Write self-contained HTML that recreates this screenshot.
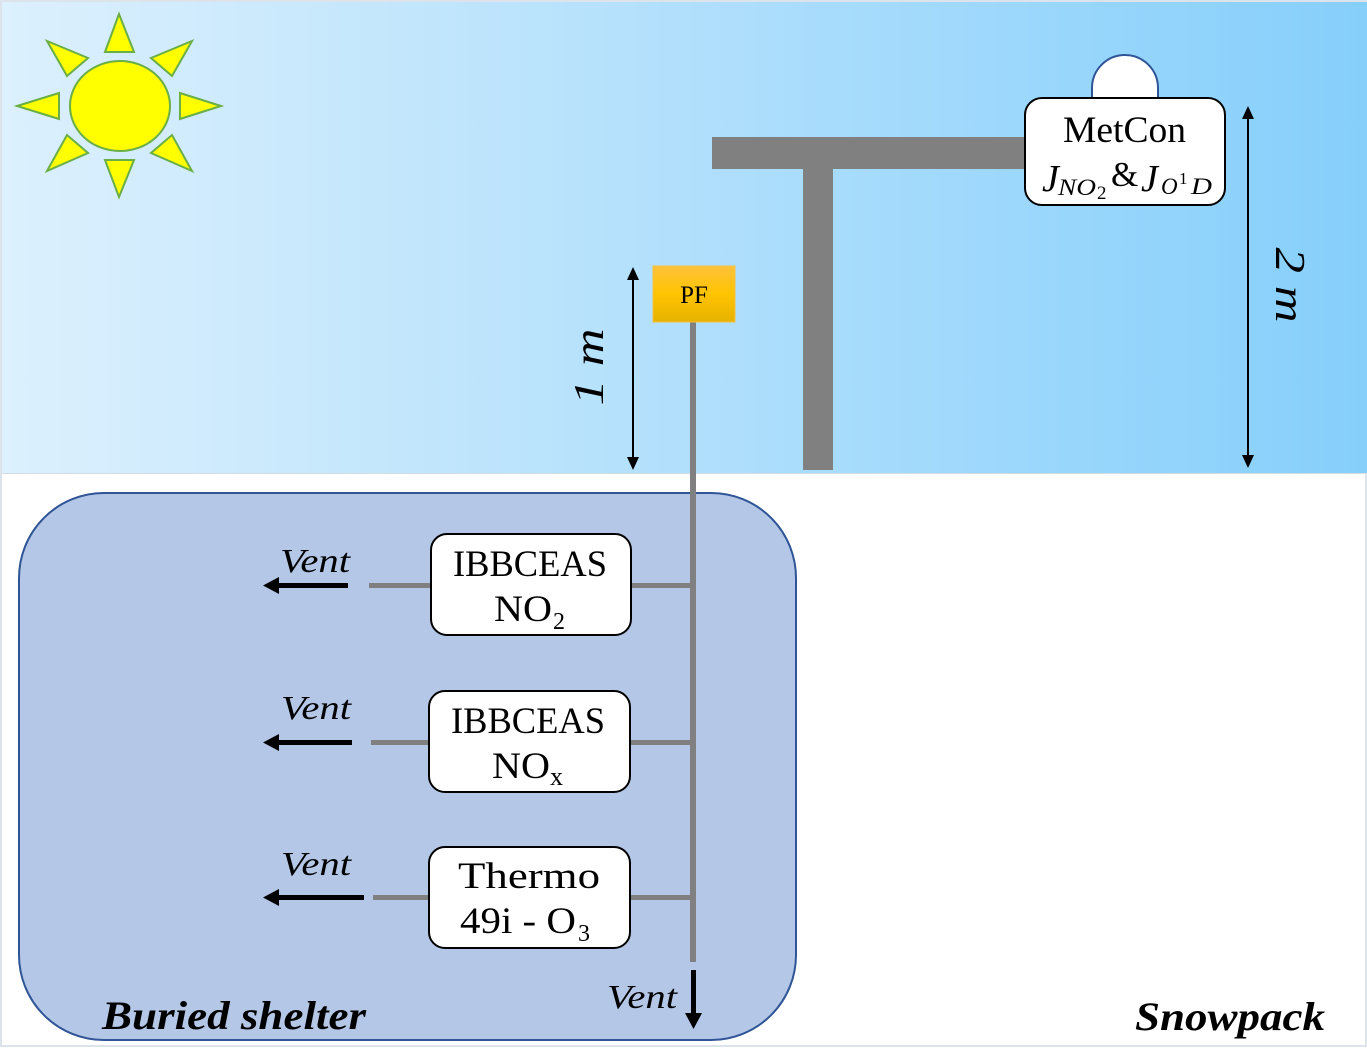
<!DOCTYPE html>
<html><head><meta charset="utf-8"><style>
html,body{margin:0;padding:0;background:#fff;}
svg{display:block;}
text{font-family:"Liberation Serif",serif;}
</style></head><body>
<svg width="1367" height="1048" viewBox="0 0 1367 1048" xmlns="http://www.w3.org/2000/svg">
<defs>
<linearGradient id="sky" x1="0" y1="0" x2="1" y2="0">
<stop offset="0" stop-color="#dcf0fd"/><stop offset="1" stop-color="#86cffb"/>
</linearGradient>
<linearGradient id="pf" x1="0" y1="0" x2="0" y2="1">
<stop offset="0" stop-color="#fdc23a"/><stop offset="0.5" stop-color="#ffc400"/><stop offset="1" stop-color="#e6b200"/>
</linearGradient>
</defs>
<rect x="0" y="0" width="1367" height="1048" fill="#fff"/>
<rect x="1" y="1" width="1365" height="1045" fill="none" stroke="#dde3ea" stroke-width="2"/>
<rect x="2" y="2" width="1365" height="471" fill="url(#sky)"/>
<line x1="2" y1="473.5" x2="1367" y2="473.5" stroke="#d3dbe3" stroke-width="1"/>

<!-- Sun -->
<g fill="#ffff00" stroke="#6aae45" stroke-width="2" stroke-linejoin="miter">
<ellipse cx="120" cy="106" rx="50" ry="45"/>
<polygon points="119,14 105,52 134,52"/>
<polygon points="119,197 105,160 134,160"/>
<polygon points="17,106 59,93 59,119"/>
<polygon points="221,106 180,93 180,119"/>
<polygon points="47,41 67,76 88,58"/>
<polygon points="192,41 151,58 172,76"/>
<polygon points="47,171 67,135 88,153"/>
<polygon points="192,171 151,153 172,135"/>
</g>

<!-- T stand -->
<rect x="712" y="137" width="314" height="32" fill="#808080"/>
<rect x="803" y="168" width="30" height="302" fill="#808080"/>

<!-- MetCon -->
<path d="M1092,100 L1092,88 A33,33 0 0 1 1158,88 L1158,100 Z" fill="#fff" stroke="#2f5597" stroke-width="2"/>
<rect x="1025" y="98" width="200" height="107" rx="17" ry="17" fill="#fff" stroke="#000" stroke-width="2"/>
<text x="1124.5" y="142" font-size="37" text-anchor="middle" textLength="123" lengthAdjust="spacingAndGlyphs">MetCon</text>
<text font-size="38" y="191" font-style="italic" x="1042">J</text>
<text font-size="23" y="195" font-style="italic" x="1058" textLength="38" lengthAdjust="spacingAndGlyphs">NO</text>
<text font-size="19" y="199" x="1097">2</text>
<text font-size="35" y="186" x="1111">&amp;</text>
<text font-size="38" y="191" font-style="italic" x="1141">J</text>
<text font-size="23" y="194" font-style="italic" x="1161">O</text>
<text font-size="17" y="184" x="1179">1</text>
<text font-size="23" y="194" font-style="italic" x="1191" textLength="21" lengthAdjust="spacingAndGlyphs">D</text>

<!-- 2 m arrow -->
<line x1="1248" y1="116" x2="1248" y2="458" stroke="#000" stroke-width="2"/>
<polygon points="1248,106 1242,119 1254,119" fill="#000"/>
<polygon points="1248,468 1242,455 1254,455" fill="#000"/>
<text transform="translate(1276,285) rotate(90)" font-size="42" font-style="italic" text-anchor="middle" textLength="75" lengthAdjust="spacingAndGlyphs">2 m</text>

<!-- 1 m arrow -->
<line x1="633" y1="277" x2="633" y2="459" stroke="#000" stroke-width="2"/>
<polygon points="633,267 627,280 639,280" fill="#000"/>
<polygon points="633,470 627,457 639,457" fill="#000"/>
<text transform="translate(603,367) rotate(-90)" font-size="42" font-style="italic" text-anchor="middle" textLength="77" lengthAdjust="spacingAndGlyphs">1 m</text>

<!-- Shelter -->
<rect x="19" y="493" width="777" height="547" rx="85" ry="85" fill="#b4c7e7" stroke="#2f5597" stroke-width="2"/>

<!-- main pipe -->
<rect x="690" y="320" width="6" height="642" fill="#808080"/>
<!-- PF -->
<rect x="653" y="266" width="82" height="56" fill="url(#pf)" stroke="#f5c242" stroke-width="1"/>
<text x="694" y="303" font-size="25" text-anchor="middle">PF</text>

<!-- connectors -->
<g fill="#808080">
<rect x="369" y="583" width="62" height="5"/>
<rect x="631" y="583" width="60" height="5"/>
<rect x="371" y="740" width="58" height="5"/>
<rect x="630" y="740" width="61" height="5"/>
<rect x="373" y="895" width="56" height="5"/>
<rect x="630" y="895" width="61" height="5"/>
</g>

<!-- boxes -->
<g fill="#fff" stroke="#000" stroke-width="2">
<rect x="431" y="534" width="200" height="101" rx="16" ry="16"/>
<rect x="429" y="691" width="201" height="101" rx="16" ry="16"/>
<rect x="429" y="847" width="201" height="101" rx="16" ry="16"/>
</g>
<text x="530" y="576" font-size="37" text-anchor="middle" textLength="154" lengthAdjust="spacingAndGlyphs">IBBCEAS</text>
<text x="494" y="621" font-size="37" textLength="58" lengthAdjust="spacingAndGlyphs">NO</text>
<text x="553" y="629" font-size="24">2</text>

<text x="528" y="733" font-size="37" text-anchor="middle" textLength="154" lengthAdjust="spacingAndGlyphs">IBBCEAS</text>
<text x="492" y="778" font-size="37" textLength="58" lengthAdjust="spacingAndGlyphs">NO</text>
<text x="550" y="785" font-size="26">x</text>

<text x="529" y="888" font-size="37" text-anchor="middle" textLength="142" lengthAdjust="spacingAndGlyphs">Thermo</text>
<text x="460" y="933" font-size="37" textLength="116" lengthAdjust="spacingAndGlyphs">49i - O</text>
<text x="578" y="941" font-size="24">3</text>

<!-- vent arrows -->
<g fill="#000">
<rect x="274" y="583" width="74" height="5"/>
<polygon points="263,585.5 279,577 279,594"/>
<rect x="274" y="740" width="78" height="5"/>
<polygon points="263,742.5 279,734 279,751"/>
<rect x="274" y="895" width="90" height="5"/>
<polygon points="263,897.5 279,889 279,906"/>
<rect x="691" y="970" width="5" height="48"/>
<polygon points="693.5,1029 685,1013 702,1013"/>
</g>
<g font-size="34" font-style="italic">
<text x="280" y="572" textLength="70" lengthAdjust="spacingAndGlyphs">Vent</text>
<text x="281" y="719" textLength="70" lengthAdjust="spacingAndGlyphs">Vent</text>
<text x="281" y="875" textLength="70" lengthAdjust="spacingAndGlyphs">Vent</text>
<text x="607" y="1008" textLength="70" lengthAdjust="spacingAndGlyphs">Vent</text>
</g>

<text x="102" y="1029" font-size="40" font-style="italic" font-weight="bold" textLength="264" lengthAdjust="spacingAndGlyphs">Buried shelter</text>
<text x="1135" y="1030" font-size="40" font-style="italic" font-weight="bold" textLength="190" lengthAdjust="spacingAndGlyphs">Snowpack</text>
</svg>
</body></html>
